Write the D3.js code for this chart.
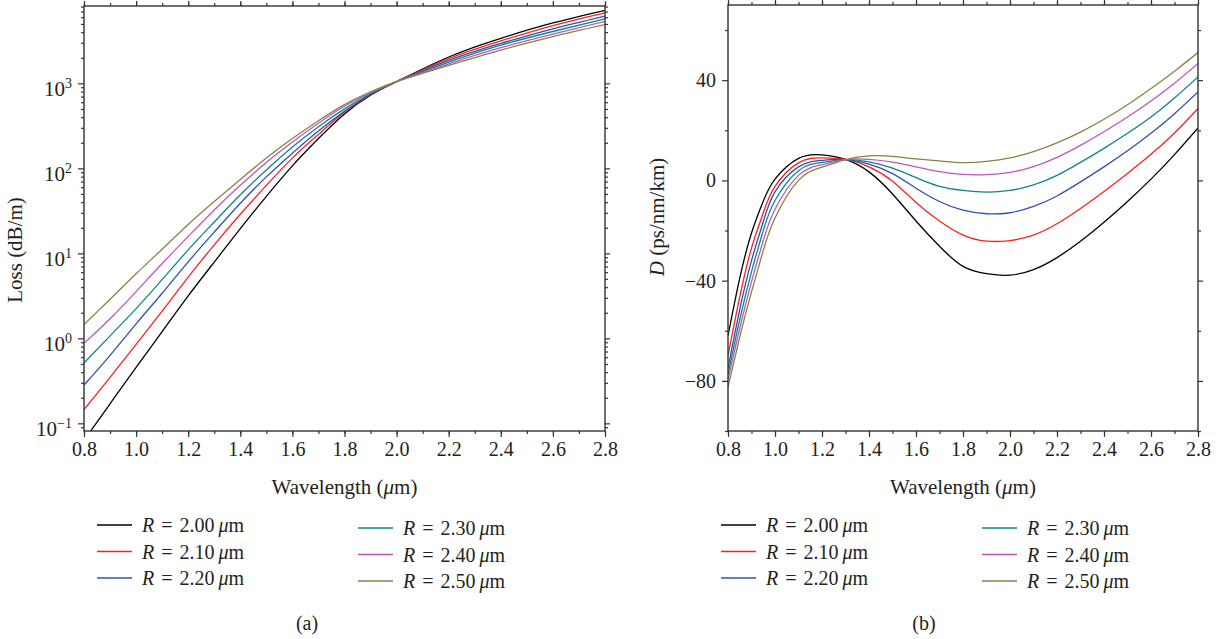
<!DOCTYPE html>
<html>
<head>
<meta charset="utf-8">
<script src="https://cdn.jsdelivr.net/npm/d3@7"></script>
<style>
  body { margin: 0; background: #fff; }
  text { font-family: "Liberation Serif", "DejaVu Serif", serif; fill: #231f20; }
</style>
</head>
<body>
<svg id="chart" width="1229" height="639"></svg>
<script>
// ---- data ----
var radii = ["2.00", "2.10", "2.20", "2.30", "2.40", "2.50"];

// (a) loss in dB/m
var lossWavelength = [0.8, 0.9, 1.0, 1.1, 1.2, 1.3, 1.4, 1.5, 1.6, 1.7, 1.8, 1.9, 2.0, 2.2, 2.4, 2.6, 2.8];
var lossR200 = [0.063, 0.17, 0.457, 1.2, 3.16, 7.9, 19.5, 46.8, 107, 224, 437, 724, 1047, 2042, 3388, 5129, 7244];
var lossR210 = [0.145, 0.347, 0.85, 2.09, 5.25, 12.6, 28.8, 63.1, 132, 251, 457, 741, 1047, 1950, 3162, 4786, 6761];
var lossR220 = [0.282, 0.631, 1.48, 3.39, 7.94, 17.8, 38.9, 79.4, 151, 275, 468, 741, 1047, 1862, 2951, 4365, 6166];
var lossR230 = [0.513, 1.07, 2.24, 4.9, 11.0, 23.4, 49.0, 95.5, 178, 309, 501, 759, 1047, 1778, 2818, 4074, 5754];
var lossR240 = [0.871, 1.70, 3.55, 7.59, 15.8, 32.4, 63.1, 117, 204, 339, 537, 776, 1047, 1698, 2630, 3802, 5370];
var lossR250 = [1.45, 2.88, 5.75, 11.2, 21.9, 40.7, 74.1, 132, 224, 363, 562, 794, 1047, 1622, 2455, 3548, 4898];

// (b) dispersion in ps/nm/km
var dispWavelength = [0.8, 0.85, 0.9, 0.95, 1.0, 1.1, 1.2, 1.3, 1.4, 1.5, 1.6, 1.7, 1.8, 1.9, 2.0, 2.1, 2.2, 2.3, 2.4, 2.5, 2.6, 2.7, 2.8];
var dispR200 = [-62, -39, -21, -8.3, 0.5, 8.8, 10.2, 8.4, 3.4, -5.4, -16.2, -26.3, -34.3, -37.2, -37.8, -35.6, -30.8, -24.3, -16.7, -8.4, 0.5, 10.3, 20.9];
var dispR210 = [-70, -46.5, -27, -13, -2.4, 7.0, 9.0, 8.4, 5.4, -0.3, -8.8, -16.2, -21.8, -24.2, -24.0, -21.8, -17.3, -11.2, -4.4, 2.8, 10.4, 18.9, 28.7];
var dispR220 = [-75, -51.5, -32, -16.5, -4.6, 5.4, 8.0, 8.3, 6.5, 2.7, -3.1, -8.4, -11.9, -13.3, -12.9, -10.4, -6.2, -0.6, 5.4, 11.8, 18.8, 26.6, 35.3];
var dispR230 = [-77.5, -55.5, -36.5, -20, -8, 3.9, 7.2, 8.3, 7.4, 4.9, 1.1, -2.4, -4.0, -4.7, -4.0, -1.8, 2.0, 7.2, 12.8, 18.8, 25.3, 32.9, 41.3];
var dispR240 = [-79.5, -59, -40.5, -24, -11.5, 2.0, 6.3, 8.3, 8.4, 7.3, 5.4, 3.5, 2.4, 2.3, 3.2, 5.5, 9.2, 14.0, 19.4, 25.3, 31.7, 38.8, 46.7];
var dispR250 = [-82.5, -62.5, -44.5, -28, -15, 0, 5.3, 8.3, 9.8, 9.6, 8.6, 7.8, 7.1, 7.6, 9.0, 11.5, 15.0, 19.3, 24.4, 30.2, 36.7, 43.6, 51];

var xTicks = [0.8, 1.0, 1.2, 1.4, 1.6, 1.8, 2.0, 2.2, 2.4, 2.6, 2.8];
var lossTicks = [0.1, 1, 10, 100, 1000];
var dispTicks = [-80, -40, 0, 40];

var lineColors = ["#000000", "#ff1f1f", "#3050b0", "#108585", "#c055c0", "#85853f"];

// ---- drawing ----
var svg = d3.select('#chart');
svg.append('rect').attr('width', 1229).attr('height', 639).attr('fill', '#fff');

var axisColor = '#333';

function minorOf(step, lo, hi) {
  var out = [], v;
  for (v = lo; v <= hi + 1e-9; v += step) out.push(+v.toFixed(3));
  return out;
}

function styleAxis(g) {
  g.select('.domain').remove();
  g.selectAll('.tick line').attr('stroke', axisColor).attr('stroke-width', 1.2);
  g.selectAll('.tick text').attr('font-size', '20px').attr('fill', '#231f20');
}

function drawPanel(opt) {
  var x = opt.x, y = opt.y;
  var x0 = x.range()[0], x1 = x.range()[1], yb = y.range()[0], yt = y.range()[1];
  var g = svg.append('g');

  var clipId = 'clip' + opt.id;
  svg.append('clipPath').attr('id', clipId).append('rect')
    .attr('x', x0).attr('y', yt).attr('width', x1 - x0).attr('height', yb - yt);

  // x axes, bottom with labels, top mirrored
  var xMinor = minorOf(0.1, 0.8, 2.8);
  g.append('g').attr('transform', 'translate(0,' + yb + ')')
    .call(d3.axisBottom(x).tickValues(xMinor).tickSize(3).tickFormat('')).call(styleAxis);
  g.append('g').attr('transform', 'translate(0,' + yb + ')')
    .call(d3.axisBottom(x).tickValues(xTicks).tickSize(6).tickPadding(5).tickFormat(d3.format('.1f'))).call(styleAxis);
  g.append('g').attr('transform', 'translate(0,' + yt + ')')
    .call(d3.axisTop(x).tickValues(xMinor).tickSize(3).tickFormat('')).call(styleAxis);
  g.append('g').attr('transform', 'translate(0,' + yt + ')')
    .call(d3.axisTop(x).tickValues(xTicks).tickSize(5).tickFormat('')).call(styleAxis);

  // y axes
  g.append('g').attr('transform', 'translate(' + x0 + ',0)')
    .call(d3.axisLeft(y).tickValues(opt.yMinor).tickSize(3).tickFormat('')).call(styleAxis);
  var yl = g.append('g').attr('transform', 'translate(' + x0 + ',0)')
    .call(d3.axisLeft(y).tickValues(opt.yMajor).tickSize(6).tickPadding(6).tickFormat(opt.yFormat)).call(styleAxis);
  if (opt.yLabel) yl.selectAll('.tick text').each(opt.yLabel);
  g.append('g').attr('transform', 'translate(' + x1 + ',0)')
    .call(d3.axisRight(y).tickValues(opt.yMinor).tickSize(3).tickFormat('')).call(styleAxis);
  g.append('g').attr('transform', 'translate(' + x1 + ',0)')
    .call(d3.axisRight(y).tickValues(opt.yMajor).tickSize(5).tickFormat('')).call(styleAxis);

  // curves
  var line = d3.line()
    .x(function(d) { return x(d[0]); })
    .y(function(d) { return y(d[1]); })
    .curve(d3.curveNatural);
  var lines = g.append('g').attr('clip-path', 'url(#' + clipId + ')');
  opt.series.forEach(function(vals, i) {
    var pts = opt.xs.map(function(w, j) { return [w, vals[j]]; });
    lines.append('path').datum(pts).attr('d', line)
      .attr('fill', 'none').attr('stroke', lineColors[i]).attr('stroke-width', 1.3);
  });

  // frame
  g.append('rect').attr('x', x0).attr('y', yt).attr('width', x1 - x0).attr('height', yb - yt)
    .attr('fill', 'none').attr('stroke', axisColor).attr('stroke-width', 1.4);

  // axis titles
  g.append('text').attr('x', (x0 + x1) / 2).attr('y', yb + 63).attr('text-anchor', 'middle')
    .attr('font-size', '21px')
    .call(function(t) {
      t.append('tspan').text('Wavelength (');
      t.append('tspan').attr('font-style', 'italic').text('\u03bc');
      t.append('tspan').text('m)');
    });
  var yt2 = g.append('text')
    .attr('transform', 'translate(' + opt.yTitleX + ',' + opt.yTitleY + ') rotate(-90)')
    .attr('text-anchor', 'middle').attr('font-size', '21px');
  opt.yTitle(yt2);

  // legend
  radii.forEach(function(r, i) {
    var col = Math.floor(i / 3), row = i % 3;
    var lx = opt.legendX[col], ly = opt.legendY[col] + row * 26.5;
    g.append('line').attr('x1', lx).attr('x2', lx + 35).attr('y1', ly).attr('y2', ly)
      .attr('stroke', lineColors[i]).attr('stroke-width', 1.5);
    var t = g.append('text').attr('x', lx + 45).attr('y', ly + 7).attr('font-size', '20px');
    t.append('tspan').attr('font-style', 'italic').text('R');
    t.append('tspan').attr('dx', 7).text('=');
    t.append('tspan').attr('dx', 7).text(r);
    t.append('tspan').attr('dx', 4).attr('font-style', 'italic').text('\u03bc');
    t.append('tspan').text('m');
  });

  g.append('text').attr('x', opt.capX).attr('y', 630).attr('text-anchor', 'middle')
    .attr('font-size', '20px').text(opt.caption);
}

var superDigits = function(e) { return (e < 0 ? '\u2212' : '') + Math.abs(e); };

drawPanel({
  id: 'a',
  x: d3.scaleLinear().domain([0.8, 2.8]).range([84, 605]),
  y: d3.scaleLog().domain([Math.pow(10, -1.09), Math.pow(10, 3.91)]).range([431, 6]),
  xs: lossWavelength,
  series: [lossR200, lossR210, lossR220, lossR230, lossR240, lossR250],
  yMajor: lossTicks,
  yMinor: (function() {
    var out = [];
    [-2, -1, 0, 1, 2, 3].forEach(function(e) {
      for (var k = 2; k <= 9; k++) {
        var v = k * Math.pow(10, e);
        if (v > Math.pow(10, -1.09) && v < Math.pow(10, 3.91)) out.push(v);
      }
    });
    return out;
  })(),
  yFormat: function() { return ''; },
  yLabel: function(d) {
    var t = d3.select(this), e = Math.round(Math.log10(d));
    t.attr('dy', '0.6em').attr('font-size', '21px');
    t.append('tspan').text('10');
    t.append('tspan').attr('dy', '-0.6em').attr('font-size', '14px').text(superDigits(e));
  },
  yTitleX: 22, yTitleY: 250,
  yTitle: function(t) { t.text('Loss (dB/m)'); },
  legendX: [97, 358], legendY: [525, 528],
  capX: 307, caption: '(a)'
});

drawPanel({
  id: 'b',
  x: d3.scaleLinear().domain([0.8, 2.8]).range([728, 1198]),
  y: d3.scaleLinear().domain([-100, 70]).range([431, 5]),
  xs: dispWavelength,
  series: [dispR200, dispR210, dispR220, dispR230, dispR240, dispR250],
  yMajor: dispTicks,
  yMinor: [-100, -60, -20, 20, 60],
  yFormat: function(d) { return d < 0 ? '\u2212' + Math.abs(d) : String(d); },
  yTitleX: 664, yTitleY: 217,
  yTitle: function(t) {
    t.append('tspan').attr('font-style', 'italic').text('D');
    t.append('tspan').text(' (ps/nm/km)');
  },
  legendX: [721, 982], legendY: [525, 528],
  capX: 924, caption: '(b)'
});
</script>
</body>
</html>
